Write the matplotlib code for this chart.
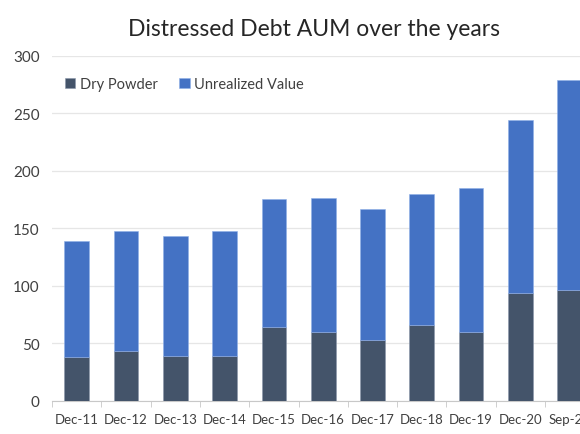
import matplotlib.pyplot as plt

plt.rcParams['font.family'] = ['Lato', 'DejaVu Sans']

# Data (USD bn)
periods = ['Dec-11', 'Dec-12', 'Dec-13', 'Dec-14', 'Dec-15', 'Dec-16',
           'Dec-17', 'Dec-18', 'Dec-19', 'Dec-20', 'Sep-21']
dry_powder = [38, 43, 39, 39, 64, 60, 53, 66, 60, 94, 96]
totals = [139, 148, 143, 148, 175, 176, 167, 180, 185, 244, 279]
unrealized = [t - d for t, d in zip(totals, dry_powder)]

dark = '#44546A'
blue = '#4472C4'
text_col = '#404040'

fig = plt.figure(figsize=(5.8, 4.35), dpi=100)
# axes deliberately runs past the right edge, like the source
ax = fig.add_axes([0.0897, 0.0766, 0.935, 0.793])

x = list(range(len(periods)))
ax.bar(x, dry_powder, width=0.5, color=dark, edgecolor='#8a97ab',
       linewidth=0.4, label='Dry Powder', zorder=3)
ax.bar(x, unrealized, width=0.5, bottom=dry_powder, color=blue,
       edgecolor='#8fb0e8', linewidth=0.4, label='Unrealized Value', zorder=3)

ax.set_xlim(-0.5, len(periods) - 0.5)
ax.set_ylim(0, 300)
ax.set_yticks(range(0, 301, 50))
ax.grid(axis='y', color='#e6e6e6', linewidth=0.9, zorder=0)

ax.set_xticks(x)
ax.set_xticklabels(periods)
ax.set_xticks([i - 0.5 for i in range(len(periods) + 1)], minor=True)
ax.tick_params(axis='x', which='major', length=0, pad=9, labelsize=9.5,
               labelcolor=text_col)
ax.tick_params(axis='x', which='minor', length=4, color='#c8c8c8')
ax.tick_params(axis='y', length=0, pad=9, labelsize=11, labelcolor=text_col)

for s in ['top', 'right', 'left']:
    ax.spines[s].set_visible(False)
ax.spines['bottom'].set_color('#c8c8c8')

ax.legend(loc='upper left', bbox_to_anchor=(0.0, 0.975), ncol=2, frameon=False,
          fontsize=10.5, handlelength=0.7, handleheight=0.7, handletextpad=0.3,
          columnspacing=1.5, labelcolor=text_col)

fig.text(314 / 580, 1 - 30 / 435, 'Distressed Debt AUM over the years',
         ha='center', va='center', fontsize=16.5, color='#262626')

fig.savefig('out.png', dpi=100)
